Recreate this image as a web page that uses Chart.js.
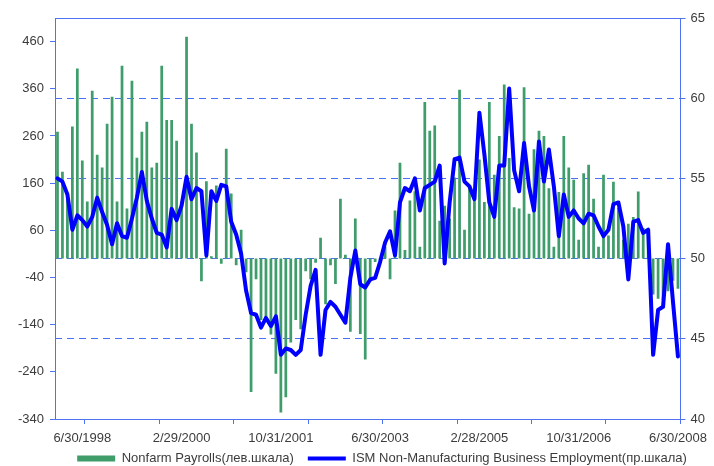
<!DOCTYPE html>
<html>
<head>
<meta charset="utf-8">
<title>Nonfarm Payrolls vs ISM Non-Manufacturing Employment</title>
<script src="https://cdn.jsdelivr.net/npm/chart.js"></script>
<style>
    html, body { margin: 0; padding: 0; background: #fff; }
    #wrap { width: 714px; height: 466px; }
</style>
</head>
<body>
<div id="wrap"><canvas id="payrolls-chart" width="714" height="466"></canvas></div>
<script>
// monthly, Jan 1998 .. Jun 2008
const firstYear = 1998;
const monthCount = 126;

// Nonfarm payrolls, monthly change, thousands (left axis)
const payrolls = [
    269, 184, 140, 280, 403, 208, 121, 356, 220, 193, 286, 343,
    121, 409, 106, 377, 214, 269, 290, 193, 203, 409, 294, 294,
    250, 121, 470, 286, 225, -48, 164, 5, 155, -11, 233, 138,
    -14, 61, -29, -283, -44, -130, -123, -161, -244, -326, -294, -178,
    -130, -150, -27, -44, -9, 44, -97, -14, -54, 127, 8, -155,
    85, -160, -214, -49, -7, -2, 25, -44, 102, 203, 18, 123,
    143, 25, 332, 271, 282, 80, 112, 85, 172, 358, 61, 150,
    128, 210, 120, 332, 178, 260, 369, 213, 109, 106, 363, 95,
    232, 271, 260, 149, 25, 141, 260, 193, 167, 40, 181, 199,
    127, 25, 178, 49, 163, 108, 40, 74, 88, 142, 65, 50,
    -76, -85, -88, -69, -47, -64
];

// ISM Non-Manufacturing Business Employment index (right axis)
const ismEmployment = [
    55.0, 54.8, 54.0, 51.8, 52.7, 52.4, 52.0, 52.6, 53.8, 52.9, 52.1, 50.9,
    52.2, 51.4, 51.3, 52.5, 53.8, 55.4, 53.6, 52.5, 51.6, 51.5, 50.7, 53.1,
    52.4, 53.3, 55.1, 53.7, 54.4, 54.2, 50.2, 54.2, 53.6, 54.6, 54.5, 52.3,
    51.5, 50.3, 48.0, 46.6, 46.5, 45.7, 46.3, 45.8, 46.4, 44.0, 44.4, 44.3,
    44.0, 44.3, 46.5, 48.3, 49.3, 44.0, 46.8, 47.3, 47.0, 46.5, 46.0, 48.8,
    50.5, 48.4, 48.2, 48.7, 48.8, 49.8, 51.0, 51.7, 50.2, 53.5, 54.4, 54.2,
    55.0, 53.0, 54.4, 54.6, 54.8, 55.8, 49.7, 53.5, 56.2, 56.3, 54.8, 54.5,
    53.7, 59.1, 56.5, 53.5, 52.6, 55.8, 55.8, 60.6, 55.5, 54.2, 57.2, 54.5,
    53.0, 57.3, 54.8, 56.8, 54.5, 51.4, 54.0, 52.6, 53.0, 52.5, 52.2, 52.8,
    52.7, 52.0, 51.4, 51.8, 53.4, 53.5, 52.0, 48.7, 52.3, 52.4, 51.6, 51.8,
    44.0, 46.8, 47.0, 50.9, 47.3, 43.9
];

const leftTicks = [-340, -240, -140, -40, 60, 160, 260, 360, 460];
const rightTicks = [40, 45, 50, 55, 60, 65];

const seriesNames = [
    'Nonfarm Payrolls(лев.шкала)',
    'ISM Non-Manufacturing Business Employment(пр.шкала)'
];

(function () {
    const axisColor = '#4f72f2';
    const gridColor = '#4a6ff5';
    const barColor = '#3f9c6b';
    const lineColor = '#0000ff';
    const textColor = '#3c3c3c';
    const font = { family: "'Liberation Sans', Arial, sans-serif", size: 13 };
    const none = 'rgba(0,0,0,0)';

    function monthEndLabel(i) {
        var y = firstYear + Math.floor(i / 12);
        var m = i % 12;
        var d = new Date(y, m + 1, 0).getDate();
        return (m + 1) + '/' + d + '/' + y;
    }

    function buildLabels() {
        var out = [];
        for (var i = 0; i < monthCount; i++) {
            out.push(monthEndLabel(i));
        }
        return out;
    }

    // solid frame line along the top of the plot
    const plotTop = {
        id: 'plotTop',
        afterDraw(chart) {
            const a = chart.chartArea;
            const ctx = chart.ctx;
            ctx.save();
            ctx.strokeStyle = axisColor;
            ctx.lineWidth = 1;
            ctx.beginPath();
            ctx.moveTo(a.left, Math.round(a.top) + 0.5);
            ctx.lineTo(a.right, Math.round(a.top) + 0.5);
            ctx.stroke();
            ctx.restore();
        }
    };

    // the legend row sits a bit higher and further right than Chart.js puts it
    const legendNudge = {
        id: 'legendNudge',
        afterLayout(chart) {
            const lg = chart.legend;
            if (!lg) return;
            lg.left += 25;
            lg.right += 25;
            lg.top -= 8;
        }
    };

    function init() {
        const labels = buildLabels();

        const config = {
            type: 'bar',
            data: {
                labels: labels,
                datasets: [
                    {
                        type: 'bar',
                        label: seriesNames[0],
                        data: payrolls,
                        yAxisID: 'y',
                        backgroundColor: barColor,
                        borderWidth: 0,
                        barPercentage: 0.55,
                        categoryPercentage: 1,
                        pointStyle: 'rect',
                        order: 2
                    },
                    {
                        type: 'line',
                        label: seriesNames[1],
                        data: ismEmployment,
                        yAxisID: 'y1',
                        borderColor: lineColor,
                        backgroundColor: lineColor,
                        borderWidth: 4,
                        borderJoinStyle: 'round',
                        borderCapStyle: 'round',
                        pointRadius: 0,
                        tension: 0,
                        pointStyle: 'line',
                        order: 1
                    }
                ]
            },
            options: {
                responsive: false,
                animation: false,
                layout: { padding: { top: 18, left: 0, right: 0, bottom: 0 } },
                scales: {
                    x: {
                        type: 'category',
                        offset: true,
                        grid: {
                            offset: true,
                            drawOnChartArea: false,
                            tickLength: 5,
                            color: ctx => (ctx.index === undefined || ctx.index % 15 === 6) ? axisColor : none
                        },
                        border: { color: axisColor, width: 1 },
                        ticks: {
                            autoSkip: false,
                            maxRotation: 0,
                            minRotation: 0,
                            padding: 7,
                            color: textColor,
                            font: font,
                            callback: function (val, i) {
                                return (i - 5) % 20 === 0 ? this.getLabelForValue(val) : '';
                            }
                        },
                        afterFit: scale => { scale.height = 27; }
                    },
                    y: {
                        position: 'left',
                        min: -340,
                        max: 510,
                        afterBuildTicks: scale => {
                            scale.ticks = leftTicks.map(v => ({ value: v }));
                        },
                        grid: {
                            drawOnChartArea: false,
                            tickLength: 5,
                            color: axisColor
                        },
                        border: { color: axisColor, width: 1 },
                        ticks: { padding: 6, color: textColor, font: font },
                        afterFit: scale => { scale.width = 55; }
                    },
                    y1: {
                        position: 'right',
                        min: 40,
                        max: 65,
                        afterBuildTicks: scale => {
                            scale.ticks = rightTicks.map(v => ({ value: v }));
                        },
                        grid: {
                            tickLength: 5,
                            color: ctx => (ctx.tick && ctx.tick.value === 40) ? none : gridColor,
                            tickColor: axisColor
                        },
                        border: { color: axisColor, width: 1, dash: [7, 5] },
                        ticks: { padding: 5, color: textColor, font: font },
                        afterFit: scale => { scale.width = 32; }
                    }
                },
                plugins: {
                    tooltip: { enabled: false },
                    title: { display: false },
                    legend: {
                        position: 'bottom',
                        align: 'center',
                        maxHeight: 20,
                        labels: {
                            usePointStyle: true,
                            pointStyleWidth: 38,
                            boxHeight: 6,
                            padding: 14,
                            color: textColor,
                            font: font,
                            sort: (a, b) => a.datasetIndex - b.datasetIndex
                        }
                    }
                }
            },
            plugins: [plotTop, legendNudge]
        };

        new Chart(document.getElementById('payrolls-chart'), config);
    }

    init();
}());
</script>
</body>
</html>
